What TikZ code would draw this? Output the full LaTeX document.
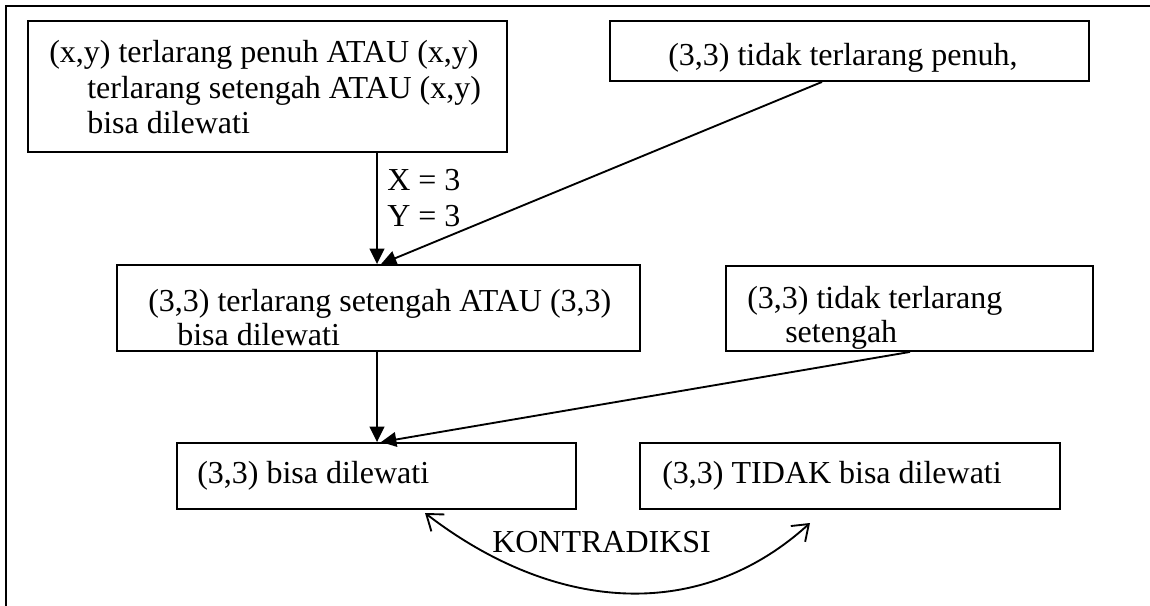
\documentclass[tikz,border=0pt]{standalone}
\usepackage{fontspec}
\setmainfont{Liberation Serif}
\usetikzlibrary{arrows.meta,fit}
\begin{document}
\begin{tikzpicture}[x=0.75pt,y=-0.75pt,
  box/.style={draw, line width=1.4pt, inner sep=0pt, rectangle},
  txt/.style={anchor=base west, inner sep=0pt, font=\fontsize{24}{29}\selectfont},
  arr/.style={line width=1.4pt, -{Triangle[length=11.5pt,width=11pt]}},
  dbl/.style={line width=1.4pt, {Straight Barb[length=11pt,width=16pt]}-{Straight Barb[length=11pt,width=16pt]}}]
\useasboundingbox (0,0) rectangle (1150,606);
% outer frame (top and left)
\draw[line width=1.4pt] (6,606) -- (6,6) -- (1150,6);

% boxes
\node[box, fit={(28,21) (507,152)}] (b1) {};
\node[box, fit={(610,21) (1089,81)}] (b2) {};
\node[box, fit={(117,265) (640,351)}] (b3) {};
\node[box, fit={(726,266) (1093,351)}] (b4) {};
\node[box, fit={(177,443) (576,509)}] (b5) {};
\node[box, fit={(640,443) (1060,509)}] (b6) {};

% texts
\node[txt] (t1a) at (49,63) {(x,y) terlarang penuh ATAU (x,y)};
\node[txt] (t1b) at (87,99) {terlarang setengah ATAU (x,y)};
\node[txt] (t1c) at (87,134) {bisa dilewati};
\node[txt] (t2) at (668,66) {(3,3) tidak terlarang penuh,};
\begin{scope}
\clip (b3.north west) rectangle (b3.south east);
\node[txt] (t3a) at (148,311) {(3,3) terlarang setengah ATAU (3,3)};
\node[txt] (t3b) at (177,345) {bisa dilewati};
\end{scope}
\begin{scope}
\clip (b4.north west) rectangle (b4.south east);
\node[txt] (t4a) at (747,308) {(3,3) tidak terlarang};
\node[txt] (t4b) at (785,342) {setengah};
\end{scope}
\node[txt] (t5) at (197,483) {(3,3) bisa dilewati};
\node[txt] (t6) at (662,483) {(3,3) TIDAK bisa dilewati};
\node[txt] (lx) at (387,191) {X = 3};
\node[txt] (ly) at (387,227) {Y = 3};
\node[txt] (lk) at (492,552) {KONTRADIKSI};

% connectors
\coordinate (v) at (377,0);
\coordinate (d1) at (822,0);
\coordinate (d2) at (910,0);
\coordinate (tp) at (381,0);
\draw[arr] (b1.south -| v) -- (b3.north -| v);
\draw[arr] (b2.south -| d1) -- (b3.north -| tp);
\draw[arr] (b3.south -| v) -- (b5.north -| v);
\draw[arr] (b4.south -| d2) -- (b5.north -| tp);

\coordinate (k1) at (425,513);
\coordinate (k2) at (810,523);
\draw[dbl] (k1) .. controls (555,613) and (700,623) .. (k2);
\end{tikzpicture}
\end{document}
